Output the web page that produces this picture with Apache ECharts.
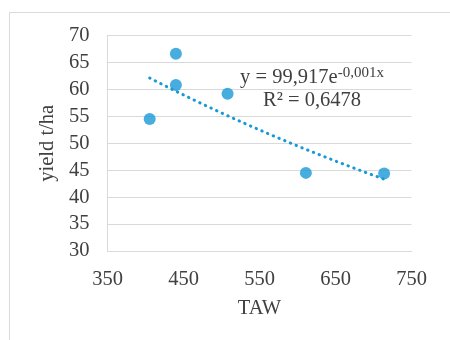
<!DOCTYPE html>
<html><head><meta charset="utf-8">
<script src="https://cdn.jsdelivr.net/npm/echarts@6/dist/echarts.min.js"></script>
<style>html,body{margin:0;padding:0;background:#fff}#c{width:450px;height:340px}</style>
</head><body><div id="c"></div>
<script>
var taw = [405.5, 440, 440, 508, 611, 714];
var yieldVals = [54.5, 66.6, 60.8, 59.2, 44.5, 44.4];
var xTicks = {min: 350, max: 750, interval: 100};
var yTicks = {min: 30, max: 70, interval: 5};
var eqText = 'y = 99,917e';
var eqExp = '-0,001x';
var r2Text = 'R² = 0,6478';

// exponential least-squares fit (as Excel trendline) on the data
var n = taw.length, mx = 0, my = 0;
for (var i = 0; i < n; i++) { mx += taw[i]; my += Math.log(yieldVals[i]); }
mx /= n; my /= n;
var sxy = 0, sxx = 0;
for (var i = 0; i < n; i++) { sxy += (taw[i]-mx)*(Math.log(yieldVals[i])-my); sxx += (taw[i]-mx)*(taw[i]-mx); }
var b = sxy/sxx, a = Math.exp(my - b*mx);
var xmin = Math.min.apply(null, taw), xmax = Math.max.apply(null, taw);
var trend = [];
for (var k = 0; k <= 60; k++) { var x = xmin + (xmax-xmin)*k/60; trend.push([x, a*Math.exp(b*x)]); }

var FONT = '"Liberation Serif","Times New Roman",serif';
var TXT = '#404040';
var GRID = '#d9d9d9';
var BLUE = '#1899d6';

var chart = echarts.init(document.getElementById('c'), null, {renderer: 'canvas'});
chart.setOption({
  backgroundColor: '#fff',
  animation: false,
  textStyle: {fontFamily: FONT},
  graphic: [
    {type: 'rect', shape: {x: 9.5, y: 12.5, width: 600, height: 500}, style: {fill: 'none', stroke: GRID, lineWidth: 1}, z: -10},
    {type: 'text', x: 312, y: 66, style: {
      text: '{a|' + eqText + '}{s|' + eqExp + '}\n{a|' + r2Text + '}',
      align: 'center', verticalAlign: 'top', fontFamily: FONT,
      rich: {
        a: {fontSize: 20.5, fontFamily: FONT, fill: TXT, lineHeight: 23},
        s: {fontSize: 15, fontFamily: FONT, fill: TXT, verticalAlign: 'top', lineHeight: 23, padding: [0,0,10,0]}
      }
    }, z: 10}
  ],
  grid: {left: 107.5, right: 38.5, top: 35.5, bottom: 89, containLabel: false},
  xAxis: {
    type: 'value', min: xTicks.min, max: xTicks.max, interval: xTicks.interval,
    name: 'TAW', nameLocation: 'middle', nameGap: 47,
    nameTextStyle: {fontSize: 20.5, color: TXT, fontFamily: FONT},
    axisLine: {show: true, lineStyle: {color: GRID, width: 1}},
    axisTick: {show: false},
    splitLine: {show: false},
    axisLabel: {fontSize: 20.5, color: TXT, fontFamily: FONT, margin: 18}
  },
  yAxis: {
    type: 'value', min: yTicks.min, max: yTicks.max, interval: yTicks.interval,
    name: 'yield t/ha', nameLocation: 'middle', nameGap: 41,
    nameTextStyle: {fontSize: 20.5, color: TXT, fontFamily: FONT},
    axisLine: {show: true, lineStyle: {color: GRID, width: 1}},
    axisTick: {show: false},
    splitLine: {show: true, lineStyle: {color: GRID, width: 1}},
    axisLabel: {fontSize: 20.5, color: TXT, fontFamily: FONT, margin: 18}
  },
  series: [
    {type: 'line', data: trend, showSymbol: false, symbol: 'none', smooth: false,
     lineStyle: {color: BLUE, width: 3, type: [0.4, 5.8], cap: 'round'}, z: 3, silent: true},
    {type: 'scatter', data: taw.map(function(x, i){ return [x, yieldVals[i]]; }),
     symbol: 'circle', symbolSize: 12, itemStyle: {color: BLUE}, z: 4}
  ]
});
</script></body></html>
